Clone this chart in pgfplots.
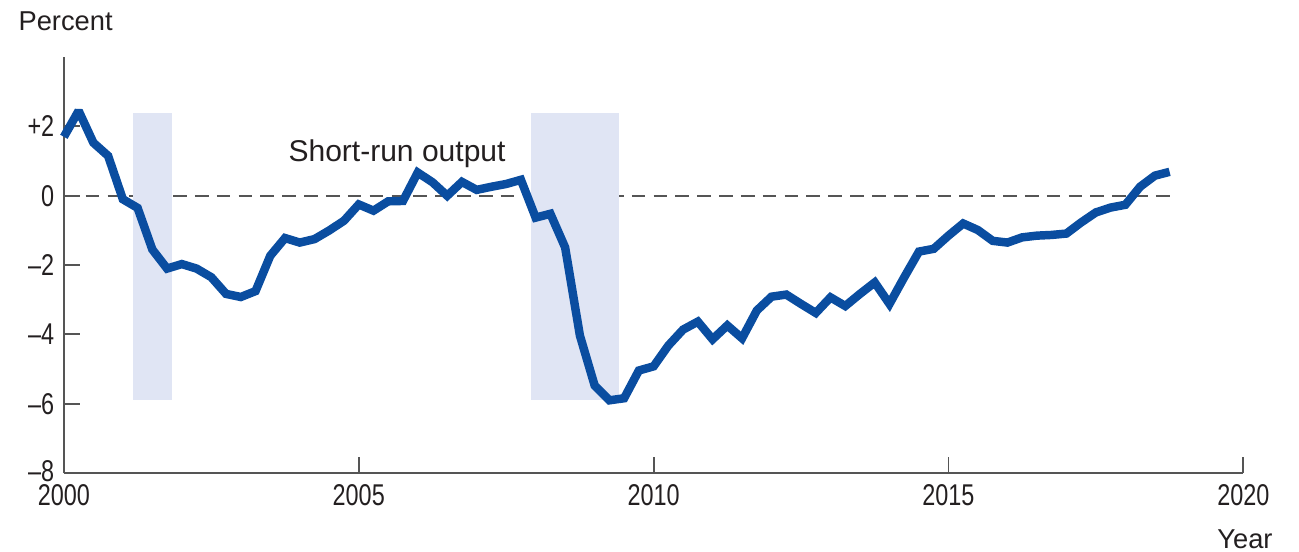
\documentclass[border=0pt]{standalone}
\usepackage{fontspec}
\setmainfont{Liberation Sans}
\newfontfamily\condensed{Liberation Sans}[FakeStretch=0.78]
\usepackage{pgfplots}
\pgfplotsset{compat=1.18}

\definecolor{gapblue}{HTML}{0A4DA0}
\definecolor{recess}{HTML}{E0E5F4}
\definecolor{axisgray}{HTML}{555555}
\definecolor{txt}{HTML}{231F20}

% output gap, quarterly, 2000Q1 to 2018Q4
\pgfplotstableread{
year value
2000.00 1.70
2000.25 2.45
2000.50 1.53
2000.75 1.15
2001.00 -0.10
2001.25 -0.35
2001.50 -1.55
2001.75 -2.10
2002.00 -1.97
2002.25 -2.10
2002.50 -2.35
2002.75 -2.83
2003.00 -2.92
2003.25 -2.75
2003.50 -1.73
2003.75 -1.22
2004.00 -1.35
2004.25 -1.25
2004.50 -1.00
2004.75 -0.72
2005.00 -0.25
2005.25 -0.43
2005.50 -0.16
2005.75 -0.15
2006.00 0.67
2006.25 0.39
2006.50 0.00
2006.75 0.40
2007.00 0.17
2007.25 0.26
2007.50 0.34
2007.75 0.46
2008.00 -0.63
2008.25 -0.52
2008.50 -1.49
2008.75 -4.03
2009.00 -5.47
2009.25 -5.90
2009.50 -5.84
2009.75 -5.04
2010.00 -4.92
2010.25 -4.32
2010.50 -3.86
2010.75 -3.63
2011.00 -4.14
2011.25 -3.74
2011.50 -4.11
2011.75 -3.31
2012.00 -2.91
2012.25 -2.85
2012.50 -3.12
2012.75 -3.38
2013.00 -2.93
2013.25 -3.18
2013.50 -2.83
2013.75 -2.50
2014.00 -3.12
2014.25 -2.35
2014.50 -1.61
2014.75 -1.53
2015.00 -1.15
2015.25 -0.80
2015.50 -0.99
2015.75 -1.30
2016.00 -1.35
2016.25 -1.20
2016.50 -1.15
2016.75 -1.13
2017.00 -1.09
2017.25 -0.77
2017.50 -0.48
2017.75 -0.34
2018.00 -0.26
2018.25 0.26
2018.50 0.58
2018.75 0.69
}\gapdata

\begin{document}
\begin{tikzpicture}[font=\fontsize{11pt}{13pt}\selectfont, text=txt]
\path[use as bounding box] (-23.4pt,-28.6pt) rectangle (452.4pt,173.3pt);
\begin{axis}[
  at={(0,0)}, anchor=south west,
  scale only axis,
  width=432pt, height=152.4pt,
  xmin=2000, xmax=2020,
  ymin=-8, ymax=4,
  axis lines=left,
  axis line style={-, draw=axisgray, line width=0.7pt},
  xtick={2000,2005,2010,2015,2020},
  xticklabels={2000,2005,2010,2015,2020},
  ytick={-8,-6,-4,-2,0,2},
  yticklabels={\raisebox{-3pt}[0pt][0pt]{–8},–6,–4,–2,0,+2},
  tick align=inside,
  major tick length=6pt,
  tick style={draw=axisgray, line width=0.7pt},
  tick label style={font=\condensed\fontsize{11pt}{13pt}\selectfont, text=txt},
  xticklabel style={yshift=-3pt, inner ysep=1pt},
  yticklabel style={inner ysep=1pt},
  clip=false,
]
% zero line
\addplot[draw=axisgray, line width=0.6pt, dash pattern=on 5pt off 3pt] coordinates {(2000,0) (2018.8,0)};
% recessions
\addplot[fill=recess, draw=none] coordinates {(2001.17,-5.9) (2001.17,2.4) (2001.83,2.4) (2001.83,-5.9)} -- cycle;
\addplot[fill=recess, draw=none] coordinates {(2007.92,-5.9) (2007.92,2.4) (2009.42,2.4) (2009.42,-5.9)} -- cycle;
% output gap
\addplot[draw=gapblue, line width=3.1pt, line join=miter, miter limit=2] table[x=year, y=value] {\gapdata};
\node[anchor=base west, inner sep=0pt] at (axis cs:2003.8,0.98) {Short-run output};
\end{axis}
\node[anchor=base west, inner sep=0pt, font=\fontsize{10pt}{12pt}\selectfont] at (-16.8pt,162pt) {Percent};
\node[anchor=base west, inner sep=0pt, font=\fontsize{10pt}{12pt}\selectfont] at (422.3pt,-27.5pt) {Year};
\end{tikzpicture}
\end{document}
